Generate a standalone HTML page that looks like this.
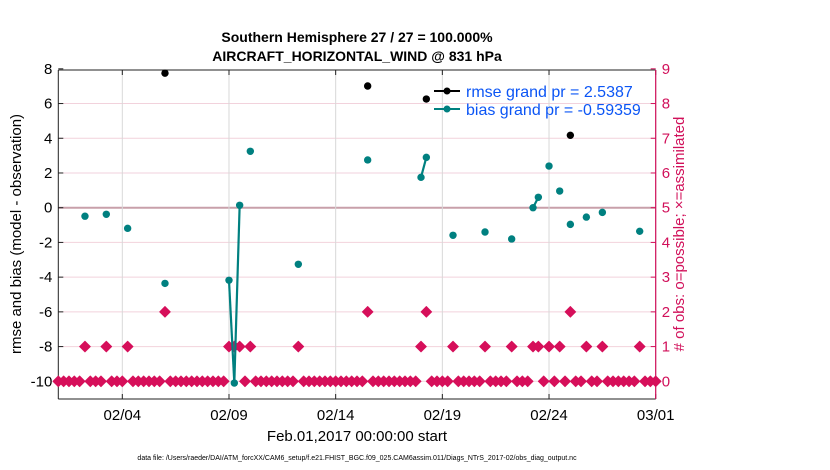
<!DOCTYPE html>
<html><head><meta charset="utf-8">
<style>
html,body{margin:0;padding:0;background:#fff;}
svg{display:block;font-family:"Liberation Sans",Arial,sans-serif;}
</style></head>
<body>
<svg id="chart" width="830" height="470" viewBox="0 0 830 470" xmlns="http://www.w3.org/2000/svg">
<text x="357" y="42" text-anchor="middle" font-size="14" font-weight="bold">Southern Hemisphere 27 / 27 = 100.000%</text>
<text x="357" y="61" text-anchor="middle" font-size="14" font-weight="bold">AIRCRAFT_HORIZONTAL_WIND @ 831 hPa</text>
<g id="grid"></g>
<g id="axes"></g>
<g id="marks"></g>
<text transform="translate(21,234) rotate(-90)" text-anchor="middle" font-size="15">rmse and bias (model - observation)</text>
<text transform="translate(684,234) rotate(-90)" text-anchor="middle" font-size="15" fill="#d1105a">
# of obs: o=possible; &#215;=assimilated</text>
<text x="357" y="441" text-anchor="middle" font-size="15">Feb.01,2017 00:00:00 start</text>
<text x="357" y="460" text-anchor="middle" font-size="7">data file: /Users/raeder/DAI/ATM_forcXX/CAM6_setup/f.e21.FHIST_BGC.f09_025.CAM6assim.011/Diags_NTrS_2017-02/obs_diag_output.nc</text>
<g>
<line x1="434" y1="91" x2="460" y2="91" stroke="#000" stroke-width="2"/>
<circle cx="447" cy="91" r="3.5" fill="#000"/>
<text x="466" y="97" font-size="16" fill="#0b55f5">rmse grand pr = 2.5387</text>
<line x1="434" y1="109" x2="460" y2="109" stroke="#008080" stroke-width="2"/>
<circle cx="447" cy="109" r="3.5" fill="#008080"/>
<text x="466" y="115" font-size="16" fill="#0b55f5">bias grand pr = -0.59359</text>
</g>
</svg>
<script>
const xTickLabels = ["02/04","02/09","02/14","02/19","02/24","03/01"];
const xTickDays = [3,8,13,18,23,28];
const leftTicks = [-10,-8,-6,-4,-2,0,2,4,6,8];
const rightTicks = [0,1,2,3,4,5,6,7,8,9];
const nBins = 113;
const countBins = [5,9,13,20,32,33,34,36,45,58,68,69,74,80,85,89,90,92,94,96,99,102,109];
const countVals = [1,1,1,2,1,1,1,1,1,2,1,2,1,1,1,1,1,1,1,2,1,1,1];
const biasBins = [5,9,13,20,32,33,34,36,45,58,68,69,74,80,85,89,90,92,94,96,99,102,109];
const biasVals = [-0.49,-0.38,-1.19,-4.36,-4.18,-10.1,0.14,3.25,-3.26,2.75,1.75,2.9,-1.59,-1.4,-1.8,0.0,0.6,2.4,0.96,-0.96,-0.54,-0.27,-1.36];
const rmseBins = [20,58,69,96];
const rmseVals = [7.75,7.01,6.26,4.17];

const L=58.3,R=655.7,T=70,B=399;
const xDay = d => L + d*(R-L)/28;
const xBin = i => xDay(i*0.25);
const yL = v => 207.7 - 17.36*v;
const yR = v => yL(v*2-10);
const NS="http://www.w3.org/2000/svg";
function mk(tag,attrs,parent){const e=document.createElementNS(NS,tag);for(const k in attrs)e.setAttribute(k,attrs[k]);parent.appendChild(e);return e;}
const grid=document.getElementById('grid'),axes=document.getElementById('axes'),marks=document.getElementById('marks');

leftTicks.forEach(v=>{
  if(v===8) return;
  const g=mk('line',{x1:L,x2:R,y1:yL(v),y2:yL(v),stroke:v===0?'#c8a0aa':'#f2d2dc','stroke-width':v===0?2:1},grid);
  
  
});
xTickDays.forEach((d,i)=>{
  const g=mk('line',{x1:xDay(d),x2:xDay(d),y1:T,y2:B,stroke:'#d8d8d8','stroke-width':1},grid);
  
  
  mk('line',{x1:xDay(d),x2:xDay(d),y1:B,y2:B-5,stroke:'#222'},axes);
  mk('line',{x1:xDay(d),x2:xDay(d),y1:T,y2:T+5,stroke:'#222'},axes);
  const t=mk('text',{x:xDay(d),y:B+21,'text-anchor':'middle','font-size':15},axes);
  t.textContent=xTickLabels[i];
  
  
});
mk('line',{x1:L,x2:R,y1:B,y2:B,stroke:'#222'},axes);
mk('line',{x1:L,x2:R,y1:T,y2:T,stroke:'#222'},axes);
mk('line',{x1:L,x2:L,y1:T,y2:B,stroke:'#222'},axes);
mk('line',{x1:R,x2:R,y1:T,y2:B,stroke:'#d1105a','stroke-width':1.2},axes);
leftTicks.forEach(v=>{
  mk('line',{x1:L,x2:L+5,y1:yL(v),y2:yL(v),stroke:'#222'},axes);
  const t=mk('text',{x:L-6,y:yL(v)+5,'text-anchor':'end','font-size':15},axes);
  t.textContent=v;
  
  
});
rightTicks.forEach(v=>{
  mk('line',{x1:R,x2:R-5,y1:yR(v),y2:yR(v),stroke:'#d1105a'},axes);
  const t=mk('text',{x:R+6,y:yR(v)+5,'font-size':15,fill:'#d1105a'},axes);
  t.textContent=v;
  
  
});
for(let i=0;i<nBins;i++){
  const k=countBins.indexOf(i);
  const c=k>=0?countVals[k]:0;
  const x=xBin(i),y=yR(c),s=5.4;
  const p=mk('polygon',{points:`${x},${y-s} ${x+s},${y} ${x},${y+s} ${x-s},${y}`,fill:'#d60f5a',stroke:'#d60f5a','stroke-width':0.8,'stroke-linejoin':'round'},marks);
  
  
}
for(let k=1;k<biasBins.length;k++){
  if(biasBins[k]-biasBins[k-1]===1){
    const l=mk('line',{x1:xBin(biasBins[k-1]),y1:yL(biasVals[k-1]),x2:xBin(biasBins[k]),y2:yL(biasVals[k]),stroke:'#008080','stroke-width':2.2},marks);
    
    
  }
}
biasBins.forEach((b,k)=>{
  const c=mk('circle',{cx:xBin(b),cy:yL(biasVals[k]),r:3.7,fill:'#008080'},marks);
  
  
});
rmseBins.forEach((b,k)=>{
  const c=mk('circle',{cx:xBin(b),cy:yL(rmseVals[k]),r:3.7,fill:'#000'},marks);
  
  
});
</script>
</body></html>
